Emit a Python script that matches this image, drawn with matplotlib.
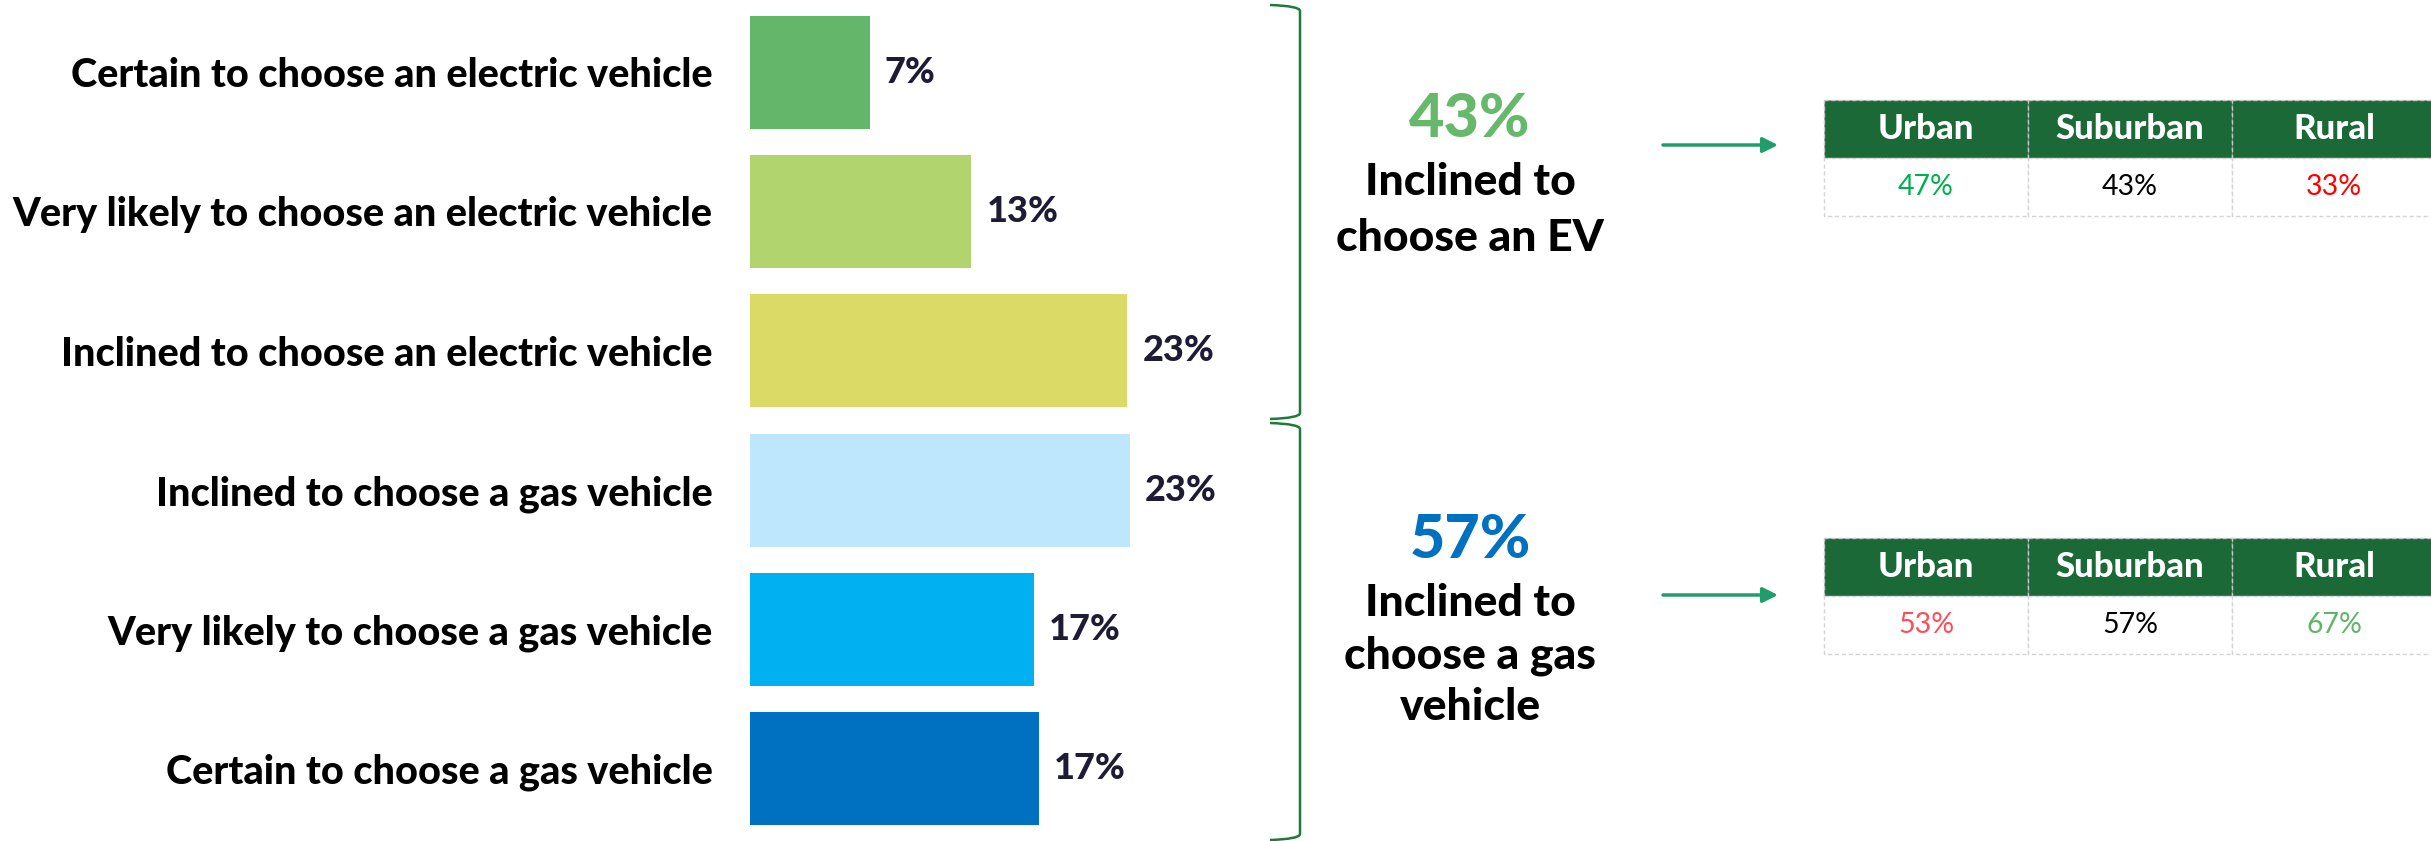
import matplotlib
matplotlib.use("Agg")
import matplotlib.pyplot as plt
from matplotlib.path import Path
from matplotlib.patches import PathPatch, Rectangle

plt.rcParams['font.family'] = ['Lato', 'DejaVu Sans']

# ---------------- data ----------------
categories = [
    "Certain to choose an electric vehicle",
    "Very likely to choose an electric vehicle",
    "Inclined to choose an electric vehicle",
    "Inclined to choose a gas vehicle",
    "Very likely to choose a gas vehicle",
    "Certain to choose a gas vehicle",
]
values = [7.3, 13.5, 23.0, 23.15, 17.3, 17.6]
value_labels = ["7%", "13%", "23%", "23%", "17%", "17%"]
bar_colors = ["#64b66a", "#b1d46f", "#dbda66", "#bee6fd", "#00b0f0", "#0070c0"]

group_totals = ["43%", "57%"]
group_total_colors = ["#66b96a", "#0070c0"]
group_lines = [["Inclined to", "choose an EV"], ["Inclined to", "choose a gas", "vehicle"]]

areas = ["Urban", "Suburban", "Rural"]
ev_by_area = ["47%", "43%", "33%"]
ev_area_colors = ["#00b050", "#000000", "#ff0000"]
gas_by_area = ["53%", "57%", "67%"]
gas_area_colors = ["#ff4d57", "#000000", "#5fb565"]

# ---------------- figure ----------------
W, H = 2431, 841
fig = plt.figure(figsize=(W / 100, H / 100), dpi=100)

# bar axes (pixel geometry)
ax_left, ax_right = 750, 1242
ax_top, ax_bot = 2.4, 838.5
ax = fig.add_axes([ax_left / W, (H - ax_bot) / H, (ax_right - ax_left) / W, (ax_bot - ax_top) / H])
ypos = list(range(len(categories)))
ax.barh(ypos, values, height=0.81, color=bar_colors)
ax.set_xlim(0, 30)
ax.set_ylim(len(categories) - 0.5, -0.5)
ax.set_yticks(ypos)
ax.set_yticklabels(categories, fontsize=28.5, fontweight='black', color='black')
ax.tick_params(axis='y', length=0, pad=27)
ax.set_xticks([])
for s in ax.spines.values():
    s.set_visible(False)
for y, v, lab in zip(ypos, values, value_labels):
    ax.annotate(lab, (v, y), xytext=(11, 0), textcoords='offset points',
                ha='left', va='center', fontsize=26, fontweight='black', color='#1e1b35')

# overlay axes in pixel coordinates
ov = fig.add_axes([0, 0, 1, 1], zorder=5)
ov.set_xlim(0, W)
ov.set_ylim(H, 0)
ov.axis('off')
ov.patch.set_alpha(0)

# brackets
brace_color = '#1e7a3a'
def bracket(y0, y1):
    verts = [(1270, y0), (1300, y0 + 1), (1300, y0 + 6),
             (1300, y1 - 6), (1300, y1 - 1), (1270, y1)]
    codes = [Path.MOVETO, Path.CURVE3, Path.CURVE3, Path.LINETO, Path.CURVE3, Path.CURVE3]
    ov.add_patch(PathPatch(Path(verts, codes), fill=False, edgecolor=brace_color, lw=1.8))
bracket(5, 419)
bracket(423, 840)

# group summaries
cx = 1470
num_baselines = [137, 558]
line_baselines = [[195, 251], [616, 668, 720]]
for tot, col, lines, nb, lbs in zip(group_totals, group_total_colors, group_lines,
                                    num_baselines, line_baselines):
    ov.text(cx, nb, tot, ha='center', va='baseline', fontsize=44,
            fontweight='black', color=col)
    for ln, b in zip(lines, lbs):
        ov.text(cx, b, ln, ha='center', va='baseline', fontsize=32,
                fontweight='black', color='black')

# arrows
arrow_color = '#1f9e6c'
for ya in (145, 595):
    ov.annotate('', xy=(1778, ya), xytext=(1663, ya),
                arrowprops=dict(arrowstyle='-|>,head_length=0.9,head_width=0.45',
                                color=arrow_color, lw=2.5, shrinkA=0, shrinkB=0))

# tables
def table(top, hdr_bot, row_bot, vals, colors):
    x0, cw = 1824, 204
    for i, (name, v, c) in enumerate(zip(areas, vals, colors)):
        xl = x0 + i * cw
        ov.add_patch(Rectangle((xl, top), cw, hdr_bot - top, facecolor='#1b6937',
                               edgecolor='#c8c8c8', lw=1, linestyle=(0, (3, 2))))
        ov.add_patch(Rectangle((xl, hdr_bot), cw, row_bot - hdr_bot, facecolor='white',
                               edgecolor='#d4d4d4', lw=1, linestyle=(0, (3, 2))))
        ov.text(xl + cw / 2, (top + hdr_bot) / 2, name, ha='center', va='center',
                fontsize=25, fontweight='black', color='white')
        ov.text(xl + cw / 2, (hdr_bot + row_bot) / 2, v, ha='center', va='center',
                fontsize=20.5, color=c)
table(100, 158, 216, ev_by_area, ev_area_colors)
table(538, 596, 654, gas_by_area, gas_area_colors)

fig.savefig('out.png', dpi=100, facecolor='white')
